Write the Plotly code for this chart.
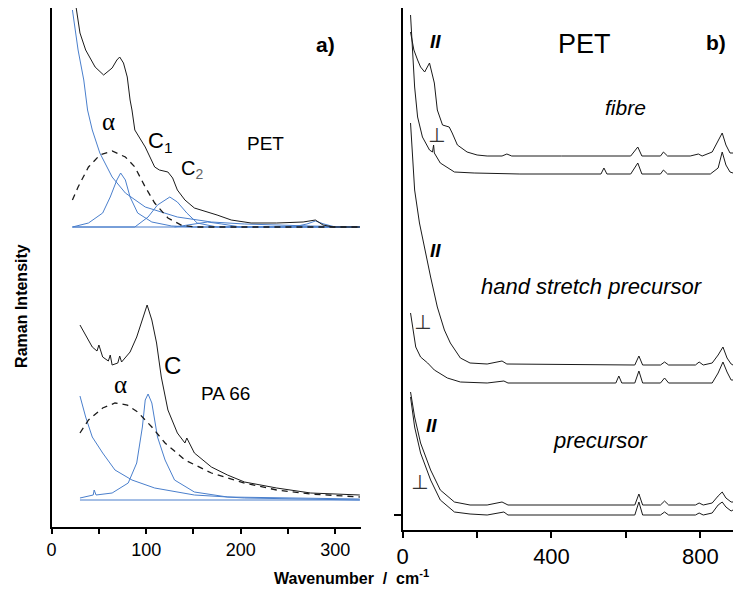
import plotly.graph_objects as go

W, H = 733, 590

# ---------------- Panel a data (wavenumber / cm-1, intensity a.u.) ----------------
pet_w = [26, 30, 36, 46, 55, 64, 69, 72, 76, 80, 83, 85, 88, 99, 109, 114, 123, 128, 133, 141, 151, 165, 175, 190, 211, 238, 266, 279, 287, 298, 326]
pet_i = [519, 494, 477, 460, 452, 459, 467, 470, 464, 450, 427, 417, 397, 380, 360, 357, 355, 349, 337, 327, 319, 315, 312, 307, 304, 304, 305, 307, 302, 300, 300]

pet_bg_w = [22, 28, 34, 38, 43, 51, 64, 78, 99, 133, 169, 204, 274, 326]
pet_bg_i = [517, 477, 447, 417, 397, 374, 350, 334, 320, 310, 305, 303, 301, 300]

pet_alpha_w = [22, 28, 39, 51, 64, 78, 88, 99, 109, 123, 137, 151, 326]
pet_alpha_i = [327, 340, 360, 372, 376, 370, 360, 340, 324, 309, 302, 300, 300]

pet_c1_w = [22, 39, 54, 62, 69, 73, 78, 83, 91, 106, 127, 151, 326]
pet_c1_i = [300, 304, 314, 330, 347, 354, 347, 330, 314, 305, 301, 300, 300]

pet_c2_w = [22, 88, 102, 112, 125, 133, 143, 154, 175, 326]
pet_c2_i = [300, 300, 310, 322, 330, 325, 314, 304, 300, 300]

pet_minor_w = [130, 150, 165, 180, 200, 255, 270, 279, 288, 300, 326]
pet_minor_i = [300, 303, 305, 303, 300, 300, 303, 306, 303, 300, 300]

pet_base_w = [22, 326]
pet_base_i = [300, 300]

pa_w = [30, 36, 43, 48, 50, 54, 60, 62, 64, 70, 72, 74, 80, 83, 90, 95, 101, 106, 111, 116, 123, 133, 141, 143, 151, 169, 186, 204, 238, 274, 326]
pa_i = [202, 192, 180, 176, 182, 170, 166, 172, 162, 164, 171, 165, 172, 175, 190, 204, 222, 207, 184, 150, 117, 94, 84, 89, 74, 60, 52, 45, 39, 34, 32]

pa_alpha_w = [30, 39, 54, 67, 80, 91, 106, 120, 141, 169, 204, 238, 274, 326]
pa_alpha_i = [94, 107, 119, 124, 122, 115, 100, 84, 67, 54, 44, 37, 33, 30]

pa_bg_w = [30, 36, 43, 54, 67, 85, 109, 151, 204, 326]
pa_bg_i = [131, 110, 90, 74, 57, 47, 39, 32, 29, 27]

pa_c_w = [30, 40, 44, 45, 47, 64, 81, 90, 96, 99, 102, 106, 112, 120, 130, 151, 186, 326]
pa_c_i = [29, 31, 32, 37, 32, 34, 44, 64, 100, 127, 133, 124, 90, 67, 47, 35, 30, 28]

pa_base_w = [30, 326]
pa_base_i = [27, 27]

# ---------------- Panel b data ----------------
fib_par_w = [21, 30, 40, 48, 59, 72, 85, 93, 107, 125, 133, 147, 173, 200, 227, 267, 280, 293, 427, 613, 632, 643, 693, 701, 712, 773, 795, 805, 832, 848, 859, 869, 880, 888]
fib_par_i = [498, 480, 470, 463, 458, 467, 447, 420, 405, 403, 397, 385, 378, 375, 374, 374, 376, 374, 374, 374, 383, 374, 374, 378, 374, 374, 376, 374, 378, 390, 397, 385, 377, 377]

fib_per_w = [21, 27, 32, 40, 53, 72, 80, 83, 85, 101, 139, 192, 315, 533, 541, 549, 613, 632, 643, 693, 701, 712, 827, 848, 859, 869, 880, 888]
fib_per_i = [515, 480, 443, 413, 393, 380, 378, 385, 377, 367, 358, 357, 356, 356, 362, 356, 356, 367, 356, 356, 360, 356, 356, 362, 378, 365, 358, 357]

hs_par_w = [21, 27, 32, 45, 59, 75, 93, 112, 128, 155, 181, 227, 267, 280, 624, 635, 645, 693, 704, 715, 787, 797, 808, 832, 848, 861, 872, 883, 888]
hs_par_i = [407, 370, 340, 307, 280, 253, 223, 200, 187, 172, 167, 166, 169, 166, 165, 174, 165, 165, 168, 165, 165, 168, 165, 167, 175, 183, 172, 166, 165]

hs_per_w = [21, 27, 35, 48, 67, 85, 120, 155, 227, 272, 283, 573, 581, 589, 624, 635, 645, 693, 704, 715, 832, 848, 861, 872, 883, 888]
hs_per_i = [217, 200, 183, 173, 167, 160, 152, 148, 147, 149, 147, 147, 154, 147, 147, 159, 147, 147, 152, 147, 147, 157, 168, 158, 150, 150]

pre_par_w = [21, 32, 48, 75, 101, 139, 181, 227, 267, 283, 624, 635, 645, 693, 704, 715, 787, 797, 808, 832, 848, 859, 869, 883, 888]
pre_par_i = [138, 113, 87, 60, 40, 28, 25, 25, 28, 25, 25, 36, 25, 25, 29, 25, 25, 27, 25, 27, 34, 38, 32, 28, 28]

pre_per_w = [21, 32, 48, 75, 101, 139, 181, 227, 272, 283, 624, 635, 645, 693, 704, 715, 787, 797, 808, 832, 848, 859, 869, 883, 888]
pre_per_i = [133, 103, 77, 50, 30, 18, 16, 15, 18, 15, 15, 28, 15, 15, 18, 15, 15, 17, 15, 17, 25, 28, 23, 19, 20]

a_ticks = [0, 100, 200, 300]
b_ticks = [0, 400, 800]

BLACK = "#1a1a1a"
BLUE = "#4a7fcc"
FONT = "Liberation Sans, Arial, sans-serif"

fig = go.Figure()

def add(xs, ys, color, xa="x", ya="y", width=1.0, dash="solid"):
    fig.add_trace(go.Scatter(x=xs, y=ys, mode="lines", xaxis=xa, yaxis=ya,
                             line=dict(color=color, width=width, dash=dash),
                             hoverinfo="skip", showlegend=False))

# Panel a
for xs, ys in [(pet_base_w, pet_base_i), (pet_bg_w, pet_bg_i), (pet_c1_w, pet_c1_i),
               (pet_c2_w, pet_c2_i), (pet_minor_w, pet_minor_i),
               (pa_base_w, pa_base_i), (pa_bg_w, pa_bg_i), (pa_c_w, pa_c_i)]:
    add(xs, ys, BLUE)
add(pet_alpha_w, pet_alpha_i, BLACK, width=1.3, dash="6px,5px")
add(pa_alpha_w, pa_alpha_i, BLACK, width=1.3, dash="6px,5px")
add(pet_w, pet_i, BLACK)
add(pa_w, pa_i, BLACK)

# Panel b
for xs, ys in [(fib_par_w, fib_par_i), (fib_per_w, fib_per_i), (hs_par_w, hs_par_i),
               (hs_per_w, hs_per_i), (pre_par_w, pre_par_i), (pre_per_w, pre_per_i)]:
    add(xs, ys, BLACK, xa="x2", ya="y2", width=1.0)

def fx(px):
    return px / W

def fy(py):
    return 1 - py / H

axis_common = dict(showgrid=False, zeroline=False, showline=True, linecolor="black",
                   linewidth=2, mirror=False)

fig.update_layout(
    width=W, height=H,
    margin=dict(l=0, r=0, t=0, b=0),
    paper_bgcolor="white", plot_bgcolor="white",
    font=dict(family=FONT, color="black"),
    xaxis=dict(domain=[fx(46), fx(358)], range=[0, 327.3], anchor="y",
               tickmode="array", tickvals=a_ticks, ticks="outside", ticklen=5,
               tickwidth=1.5, tickcolor="black", tickfont=dict(size=18, family=FONT),
               minor=dict(dtick=50, ticks="outside", ticklen=5, tickwidth=1.5, tickcolor="black"),
               **axis_common),
    yaxis=dict(domain=[fy(527), fy(8)], range=[0, 519], anchor="x",
               showticklabels=False, ticks="", **axis_common),
    xaxis2=dict(domain=[fx(400), 1.0], range=[0, 888], anchor="y2",
                tickmode="array", tickvals=b_ticks, ticks="outside", ticklen=6,
                tickwidth=1.5, tickcolor="black", tickfont=dict(size=22, family=FONT),
                minor=dict(dtick=200, ticks="outside", ticklen=6, tickwidth=1.5, tickcolor="black"),
                **axis_common),
    yaxis2=dict(domain=[fy(530), fy(8)], range=[0, 522], anchor="x2",
                tickmode="array", tickvals=[15], ticktext=[""], ticks="outside",
                ticklen=7, tickwidth=1.5, tickcolor="black", **axis_common),
)

def ann(text, px, py, size, family=FONT, color="black", angle=0):
    fig.add_annotation(text=text, x=fx(px), y=fy(py), xref="paper", yref="paper",
                       showarrow=False, xanchor="center", yanchor="middle",
                       font=dict(size=size, family=family, color=color), textangle=angle)

SERIF = "Liberation Serif, Times New Roman, serif"
SYM = "DejaVu Sans, sans-serif"
# Panel a labels
ann("<b>a)</b>", 322, 44, 21)
ann("α", 103, 122, 25, family=SERIF)
ann("C<sub>1</sub>", 155, 142, 22)
ann("C<sub><span style='color:#666'>2</span></sub>", 188, 169, 20)
ann("PET", 262, 143, 19)
ann("C", 168, 365, 24)
ann("α", 115, 384, 25, family=SERIF)
ann("PA 66", 221, 393, 19)

# Panel b labels
ann("PET", 583, 44, 27)
ann("<b>b)</b>", 716, 43, 21)
ann("<i>fibre</i>", 625, 107, 21)
ann("<i>hand stretch precursor</i>", 591, 286, 22)
ann("<i>precursor</i>", 600, 440, 22)
ann("<b><i>II</i></b>", 433, 42, 19)
ann("<b><i>II</i></b>", 433, 250, 19)
ann("<b><i>II</i></b>", 429, 425, 19)
ann("⊥", 434, 135, 20, family=SYM, color="#333333")
ann("⊥", 420, 322, 20, family=SYM, color="#333333")
ann("⊥", 417, 482, 20, family=SYM, color="#333333")

# Axis titles
ann("<b>Raman Intensity</b>", 15, 306, 16, angle=-90)
ann("<b>Wavenumber  /  cm<sup>-1</sup></b>", 348, 577, 16)

fig.write_html("out.html", config={"displayModeBar": False},
               post_script="document.body.style.margin='0';document.body.style.overflow='hidden';")
